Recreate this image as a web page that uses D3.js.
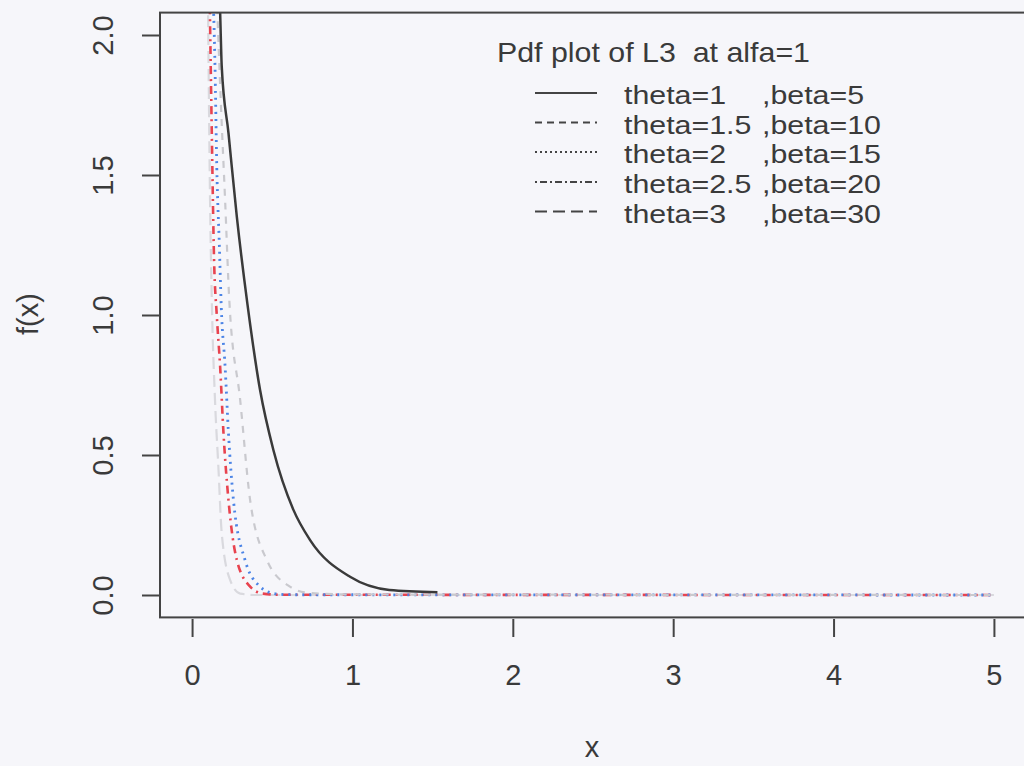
<!DOCTYPE html>
<html><head><meta charset="utf-8">
<script src="https://cdn.jsdelivr.net/npm/d3@7"></script>
<style>
html,body{margin:0;padding:0;background:#f6f6fa;}
svg{display:block;}
text{font-family:"Liberation Sans",Arial,sans-serif;fill:#3a3a3a;}
</style></head>
<body>
<script>
// ---- data ----
const xTicks = [0, 1, 2, 3, 4, 5];
const yTicks = [0.0, 0.5, 1.0, 1.5, 2.0];
const yTickLabels = ["0.0", "0.5", "1.0", "1.5", "2.0"];
const legendTitle = "Pdf plot of L3  at alfa=1";
const thetaLabels = ["theta=1", "theta=1.5", "theta=2", "theta=2.5", "theta=3"];
const betaLabels = [",beta=5", ",beta=10", ",beta=15", ",beta=20", ",beta=30"];

const s1x = [0.168, 0.175, 0.185, 0.227, 0.279, 0.345, 0.424, 0.507, 0.632, 0.736, 0.985, 1.23, 1.53];
const s1y = [2.2, 2.08, 1.887, 1.65, 1.351, 1.04, 0.732, 0.518, 0.304, 0.196, 0.065, 0.018, 0.01];
const s2x = [0.15, 0.18, 0.206, 0.232, 0.30, 0.362, 0.466, 0.61, 0.72, 1.0, 5.0];
const s2y = [2.2, 1.75, 1.41, 1.054, 0.696, 0.339, 0.125, 0.03, 0.008, 0.002, 0.0];
const s3x = [0.128, 0.143, 0.154, 0.17, 0.182, 0.206, 0.227, 0.258, 0.33, 0.424, 0.507, 0.6, 5.0];
const s3y = [2.2, 1.887, 1.53, 1.25, 1.03, 0.815, 0.577, 0.339, 0.125, 0.03, 0.006, 0.001, 0.0];
const s4x = [0.108, 0.123, 0.137, 0.154, 0.175, 0.196, 0.227, 0.279, 0.362, 0.44, 0.55, 5.0];
const s4y = [2.2, 1.65, 1.2, 1.0, 0.815, 0.577, 0.339, 0.125, 0.03, 0.005, 0.001, 0.0];
const s5x = [0.098, 0.112, 0.123, 0.143, 0.164, 0.185, 0.237, 0.30, 0.4, 5.0];
const s5y = [2.2, 1.41, 1.054, 0.696, 0.458, 0.22, 0.054, 0.005, 0.0, 0.0];

const W = 1024, H = 766;
const FONT = "'Liberation Sans',Arial,sans-serif";
const svg = d3.select("body").append("svg").attr("width", W).attr("height", H);
svg.append("rect").attr("width", W).attr("height", H).attr("fill", "#f6f6fa");

const x = d3.scaleLinear().domain([-0.2, 5.2]).range([160, 1026]);
const y = d3.scaleLinear().domain([-0.08, 2.08]).range([617.4, 12.6]);

svg.append("defs").append("clipPath").attr("id", "clip")
  .append("rect").attr("x", 160).attr("y", 12.6).attr("width", 866).attr("height", 604.8);

const series = [
  {xs: s1x, ys: s1y, color: "#3a3a3a", dash: null, w: 2.5},
  {xs: s2x, ys: s2y, color: "#c9c9ce", dash: "7,7", w: 2.2},
  {xs: s3x, ys: s3y, color: "#4b84e6", dash: "2,5", w: 2.8},
  {xs: s4x, ys: s4y, color: "#e8434f", dash: "2,5,8,5", w: 2.6},
  {xs: s5x, ys: s5y, color: "#d9d9de", dash: "12,6", w: 2.2}
];

const line = d3.line().x(d => x(d[0])).y(d => y(d[1])).curve(d3.curveMonotoneX);
const g = svg.append("g").attr("clip-path", "url(#clip)");
series.slice().reverse().forEach(s => {
  const pts = s.xs.map((v, i) => [v, s.ys[i]]);
  g.append("path").datum(pts).attr("d", line)
    .attr("fill", "none").attr("stroke", s.color).attr("stroke-width", s.w)
    .attr("stroke-dasharray", s.dash);
});

// box
svg.append("rect").attr("x", 160).attr("y", 12.6).attr("width", 866).attr("height", 604.8)
  .attr("fill", "none").attr("stroke", "#444").attr("stroke-width", 2);

// x axis
const xAxis = d3.axisBottom(x).tickValues(xTicks).tickSize(18).tickPadding(0).tickFormat(d3.format("d"));
const gx = svg.append("g").attr("transform", "translate(0,619)").call(xAxis);
gx.select(".domain").remove();
gx.selectAll(".tick line").attr("stroke", "#444").attr("stroke-width", 2);
gx.selectAll(".tick text").attr("font-size", 29).attr("fill", "#3a3a3a")
  .style("font-family", FONT).attr("dy", null).attr("y", 66);

// y axis
const yAxis = d3.axisLeft(y).tickValues(yTicks).tickSize(18).tickPadding(0).tickFormat((d, i) => yTickLabels[i]);
const gy = svg.append("g").attr("transform", "translate(160,0)").call(yAxis);
gy.select(".domain").remove();
gy.selectAll(".tick line").attr("stroke", "#444").attr("stroke-width", 2);
gy.selectAll(".tick text").attr("font-size", 29).attr("fill", "#3a3a3a")
  .style("font-family", FONT)
  .attr("text-anchor", "middle").attr("dy", null).attr("x", null)
  .attr("transform", "translate(-57,0) rotate(-90)").attr("dy", "0.35em");

// axis titles
svg.append("text").attr("x", 592).attr("y", 757).attr("text-anchor", "middle")
  .attr("font-size", 29).text("x");
svg.append("text").attr("transform", "translate(28,314) rotate(-90)").attr("text-anchor", "middle")
  .attr("dy", "0.35em").attr("font-size", 29).text("f(x)");

// legend
svg.append("text").attr("x", 497).attr("y", 62).attr("font-size", 28)
  .style("white-space", "pre")
  .attr("textLength", 313).attr("lengthAdjust", "spacingAndGlyphs").text(legendTitle);
const legDash = [null, "7,5", "2,3", "2,3,7,3", "12,6"];
const rowY = [93, 122.5, 152, 182, 211.5];
const LF = 25.5, STRETCH = 1.19;
thetaLabels.forEach((t, i) => {
  svg.append("line").attr("x1", 535).attr("x2", 597).attr("y1", rowY[i]).attr("y2", rowY[i])
    .attr("stroke", "#444").attr("stroke-width", 2).attr("stroke-dasharray", legDash[i]);
  [[624, t], [762, betaLabels[i]]].forEach(([tx, str]) => {
    const el = svg.append("text").attr("x", tx).attr("y", rowY[i] + 11).attr("font-size", LF).text(str);
    const len = el.node().getComputedTextLength();
    el.attr("textLength", len * STRETCH).attr("lengthAdjust", "spacingAndGlyphs");
  });
});
</script>
</body></html>
